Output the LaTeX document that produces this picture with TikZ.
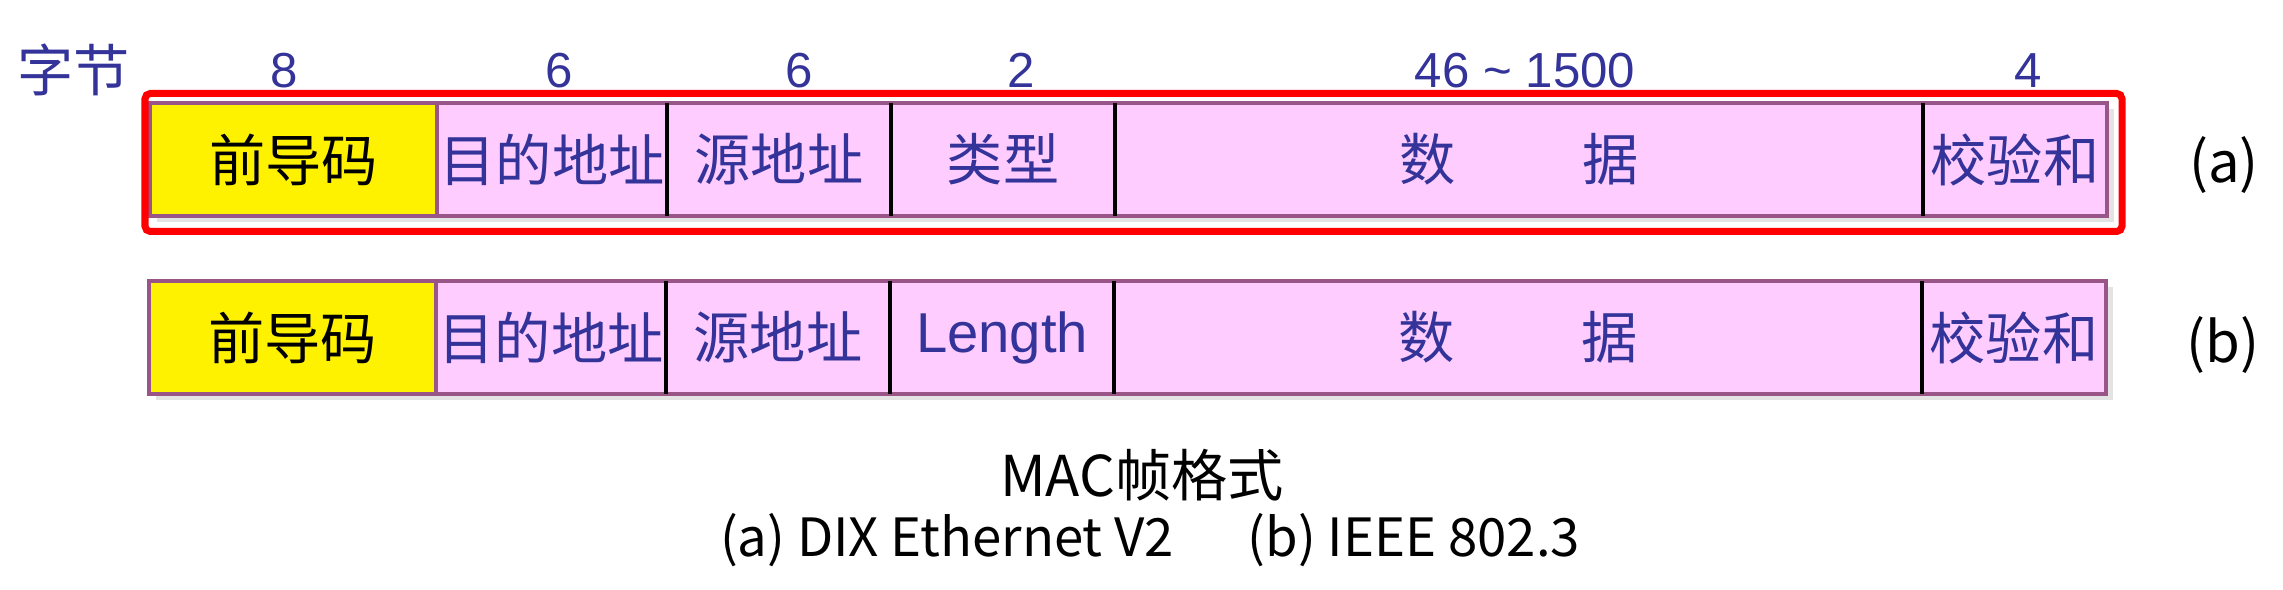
\documentclass[tikz,border=0pt]{standalone}
\usepackage{fontspec}
\setmainfont{Liberation Sans}
\newfontfamily\cjk{Noto Sans CJK SC}
\usetikzlibrary{positioning,shadows}
\definecolor{fieldpink}{HTML}{FFCCFF}
\definecolor{framecol}{HTML}{995588}
\definecolor{textblue}{HTML}{333399}
\definecolor{shadowgray}{HTML}{E3E3E3}
\begin{document}
\begin{tikzpicture}[
    field/.style={rectangle, draw=framecol, line width=0.95pt, fill=fieldpink, text=textblue,
        minimum height=1.13cm, inner sep=0pt, outer sep=0pt, font=\cjk\fontsize{16}{19}\selectfont,
        drop shadow={shadow xshift=0.065cm, shadow yshift=-0.065cm, fill=shadowgray, opacity=1}},
    lead/.style={field, fill=yellow, text=black},
    bytes/.style={anchor=base, text=textblue, font=\fontsize{14}{17}\selectfont},
    divider/.style={draw=black, line width=0.9pt},
    redframe/.style={draw=red, line width=2pt, rounded corners=1.5pt},
    tag/.style={font=\cjk\fontsize{16}{19}\selectfont}
]
    \useasboundingbox (0,0) rectangle (22.83,5.90);

    % (a) DIX Ethernet V2
    \node[lead, minimum width=2.87cm, anchor=north west] (preA) at (1.50,4.87) {前导码};
    \node[field, minimum width=2.30cm, right=0pt of preA] (dstA) {目的地址};
    \node[field, minimum width=2.24cm, right=0pt of dstA] (srcA) {源地址};
    \node[field, minimum width=2.24cm, right=0pt of srcA] (typA) {类型};
    \node[field, minimum width=8.08cm, right=0pt of typA] (datA) {数\hspace{2.25em}据};
    \node[field, minimum width=1.84cm, right=0pt of datA] (fcsA) {校验和};

    % (b) IEEE 802.3
    \node[lead, minimum width=2.87cm, anchor=north west] (preB) at (1.49,3.09) {前导码};
    \node[field, minimum width=2.30cm, right=0pt of preB] (dstB) {目的地址};
    \node[field, minimum width=2.24cm, right=0pt of dstB] (srcB) {源地址};
    \node[field, minimum width=2.24cm, right=0pt of srcB, font=\fontsize{16}{19}\selectfont] (lenB) {\raisebox{-0.08em}{Length}};
    \node[field, minimum width=8.08cm, right=0pt of lenB] (datB) {数\hspace{2.25em}据};
    \node[field, minimum width=1.84cm, right=0pt of datB] (fcsB) {校验和};

    \foreach \f in {dstA,srcA,typA,datA,dstB,srcB,lenB,datB}
        \draw[divider] (\f.north east) -- (\f.south east);

    \draw[redframe] ([xshift=-0.05cm,yshift=0.095cm]preA.north west) rectangle ([xshift=0.15cm,yshift=-0.155cm]fcsA.south east);

    % byte counts
    \node[tag, text=textblue] (unit) at (0.74,5.20) {字节};
    \node[bytes] (nPre) at (2.84,5.02) {8};
    \node[bytes] (nDst) at (5.59,5.02) {6};
    \node[bytes] (nSrc) at (7.99,5.02) {6};
    \node[bytes] (nTyp) at (10.21,5.02) {2};
    \node[bytes] (nDat) at (15.25,5.02) {46 \textasciitilde{} 1500};
    \node[bytes] (nFcs) at (20.28,5.02) {4};

    \node[tag] (labA) at (22.24,4.25) {(a)};
    \node[tag] (labB) at (22.23,2.45) {(b)};

    \node[tag, anchor=base] (title) at (11.42,0.93) {MAC帧格式};
    \node[tag, anchor=base, font=\cjk\fontsize{15}{18}\selectfont] (std) at (11.50,0.33) {(a) DIX Ethernet V2\hspace{1.4em}(b) IEEE 802.3};
\end{tikzpicture}
\end{document}
